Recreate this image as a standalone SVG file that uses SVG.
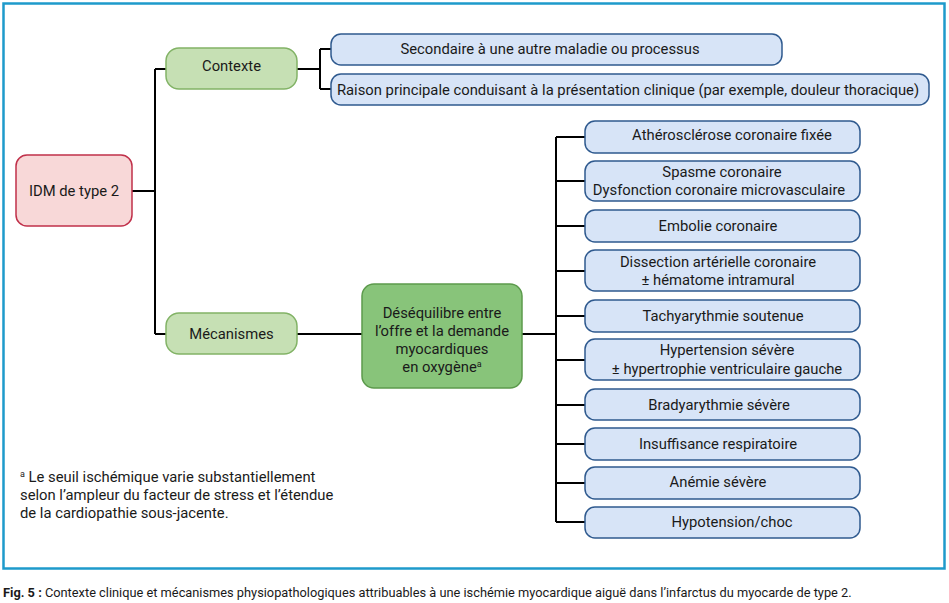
<svg xmlns="http://www.w3.org/2000/svg" width="949" height="603" viewBox="0 0 949 603">
<style>
text{font-family:Roboto,"Liberation Sans",sans-serif;font-size:14.8px;fill:#1a1a1a}
.c{text-anchor:middle}
.blue{fill:#d7e4f7;stroke:#2f5a8f;stroke-width:1.5}
.lg{fill:#c6e0b4;stroke:#82b366;stroke-width:1.5}
.dg{fill:#88c47a;stroke:#5c9a4c;stroke-width:1.5}
.pink{fill:#f8d8d8;stroke:#c0304a;stroke-width:1.5}
.ln{fill:none;stroke:#000;stroke-width:2}
.sup{font-size:9px}
</style>
<rect x="0" y="0" width="949" height="603" fill="#fff"/>
<rect x="3.5" y="3.5" width="941" height="565" fill="none" stroke="#1e9acb" stroke-width="2.5"/>
<g id="connectors">
<path class="ln" d="M132 191H155M155 69V334M155 69H166M155 334H166"/>
<path class="ln" d="M297 69H320M320 49V89M320 49H331M320 89H331"/>
<path class="ln" d="M297 334H362"/>
<path class="ln" d="M522 334H556M556 137V522"/>
<path class="ln" d="M556 137H585M556 181H585M556 226H585M556 271H585M556 316H585M556 360H585M556 405H585M556 444H585M556 483H585M556 522H585"/>
</g>
<g id="idm"><rect class="pink" x="16" y="155" width="116" height="71" rx="11"/><text class="c" x="74" y="196">IDM de type 2</text></g>
<g id="contexte"><rect class="lg" x="166" y="48" width="131" height="41" rx="13"/><text class="c" x="231.5" y="71">Contexte</text></g>
<g id="mecanismes"><rect class="lg" x="166" y="313" width="131" height="41" rx="13"/><text class="c" x="231.5" y="339">Mécanismes</text></g>
<g id="desequilibre"><rect class="dg" x="362" y="284" width="160" height="104" rx="12"/>
<text class="c" x="442" y="318">Déséquilibre entre</text>
<text class="c" x="442" y="336">l’offre et la demande</text>
<text class="c" x="442" y="354">myocardiques</text>
<text class="c" x="442" y="372">en oxygène<tspan class="sup" dy="-5">a</tspan></text></g>
<g id="secondaire"><rect class="blue" x="331" y="34" width="451" height="31" rx="10"/><text class="c" x="550" y="54">Secondaire à une autre maladie ou processus</text></g>
<g id="raison"><rect class="blue" x="331" y="74" width="598" height="31" rx="10"/><text class="c" x="628" y="95">Raison principale conduisant à la présentation clinique (par exemple, douleur thoracique)</text></g>
<g id="m1"><rect class="blue" x="585" y="121" width="275" height="32" rx="10"/><text class="c" x="732" y="140">Athérosclérose coronaire fixée</text></g>
<g id="m2"><rect class="blue" x="585" y="161" width="275" height="40" rx="10"/><text class="c" x="722" y="177">Spasme coronaire</text><text class="c" x="719" y="195">Dysfonction coronaire microvasculaire</text></g>
<g id="m3"><rect class="blue" x="585" y="210" width="275" height="32" rx="10"/><text class="c" x="718" y="231">Embolie coronaire</text></g>
<g id="m4"><rect class="blue" x="585" y="250" width="275" height="41" rx="10"/><text class="c" x="718" y="267">Dissection artérielle coronaire</text><text class="c" x="718" y="285">± hématome intramural</text></g>
<g id="m5"><rect class="blue" x="585" y="300" width="275" height="32" rx="10"/><text class="c" x="723" y="321">Tachyarythmie soutenue</text></g>
<g id="m6"><rect class="blue" x="585" y="339" width="275" height="41" rx="10"/><text class="c" x="727" y="355">Hypertension sévère</text><text class="c" x="727" y="374">± hypertrophie ventriculaire gauche</text></g>
<g id="m7"><rect class="blue" x="585" y="389" width="275" height="31" rx="10"/><text class="c" x="719" y="410">Bradyarythmie sévère</text></g>
<g id="m8"><rect class="blue" x="585" y="428" width="275" height="32" rx="10"/><text class="c" x="718" y="449">Insuffisance respiratoire</text></g>
<g id="m9"><rect class="blue" x="585" y="467" width="275" height="32" rx="10"/><text class="c" x="718" y="487">Anémie sévère</text></g>
<g id="m10"><rect class="blue" x="585" y="507" width="275" height="31" rx="10"/><text class="c" x="732" y="527">Hypotension/choc</text></g>
<g id="footnote">
<text x="20" y="482"><tspan class="sup" dy="-5">a</tspan><tspan dy="5"> Le seuil ischémique varie substantiellement</tspan></text>
<text x="20" y="500">selon l’ampleur du facteur de stress et l’étendue</text>
<text x="20" y="518">de la cardiopathie sous-jacente.</text>
</g>
<text x="3" y="597" style="font-size:12.8px"><tspan font-weight="bold">Fig. 5 :</tspan> Contexte clinique et mécanismes physiopathologiques attribuables à une ischémie myocardique aiguë dans l’infarctus du myocarde de type 2.</text>
</svg>
